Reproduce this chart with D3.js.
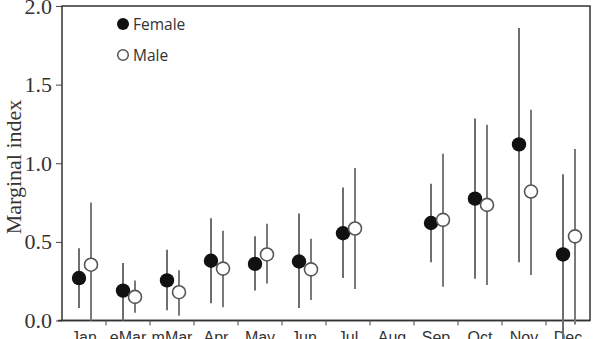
<!DOCTYPE html>
<html>
<head>
<meta charset="utf-8">
<script src="https://cdn.jsdelivr.net/npm/d3@7"></script>
<style>
  body { margin: 0; background: #fff; }
</style>
</head>
<body>
<div id="chart"></div>
<script>
var months = ["Jan","eMar","mMar","Apr","May","Jun","Jul","Aug","Sep","Oct","Nov","Dec"];
// female: mean, lower, upper  (null = no data)
var femaleMean = [0.27, 0.19, 0.255, 0.38, 0.36, 0.375, 0.555, null, 0.62, 0.775, 1.12, 0.42];
var femaleLow  = [0.08, 0.0, 0.065, 0.11, 0.19, 0.08, 0.27, null, 0.37, 0.265, 0.37, -0.12];
var femaleHigh = [0.46, 0.365, 0.45, 0.65, 0.535, 0.68, 0.845, null, 0.87, 1.285, 1.86, 0.93];
var maleMean = [0.355, 0.15, 0.18, 0.33, 0.42, 0.325, 0.585, null, 0.64, 0.735, 0.82, 0.535];
var maleLow  = [0.0, 0.05, 0.03, 0.085, 0.235, 0.13, 0.2, null, 0.215, 0.225, 0.29, -0.025];
var maleHigh = [0.75, 0.255, 0.32, 0.57, 0.615, 0.52, 0.97, null, 1.06, 1.245, 1.34, 1.09];
var yTicks = [0, 0.5, 1.0, 1.5, 2.0];

var width = 595, height = 339;
var margin = {left: 62, right: 5, top: 6, bottom: 18};

var svg = d3.select("#chart").append("svg")
  .attr("width", width)
  .attr("height", height);

var x = d3.scaleBand().domain(months)
  .range([margin.left, width - margin.right]);
var y = d3.scaleLinear().domain([0, 2])
  .range([height - margin.bottom - 0.5, margin.top]);

// frame
svg.append("rect")
  .attr("x", margin.left).attr("y", margin.top)
  .attr("width", width - margin.right - margin.left)
  .attr("height", y(0) - margin.top)
  .attr("fill", "none").attr("stroke", "#333").attr("stroke-width", 1.5);

// y axis
var yAxis = d3.axisLeft(y).tickValues(yTicks).tickFormat(d3.format(".1f")).tickSize(6);
var gy = svg.append("g").attr("transform", "translate(" + margin.left + ",0)").call(yAxis);
gy.select(".domain").remove();
gy.selectAll("line").attr("stroke", "#444");
gy.selectAll("text")
  .attr("font-family", "Liberation Serif, Times New Roman, serif")
  .attr("font-size", 22).attr("fill", "#333").attr("dx", "-1");

// x axis: ticks between categories
var gx = svg.append("g").attr("transform", "translate(0," + y(0) + ")");
gx.append("line").attr("x1", margin.left - 4).attr("x2", width - margin.right)
  .attr("stroke", "#333").attr("stroke-width", 1.5);
gx.selectAll(".tk").data(months.slice(1))
  .enter().append("line")
  .attr("x1", function(d){ return x(d); }).attr("x2", function(d){ return x(d); })
  .attr("y1", 0).attr("y2", 5).attr("stroke", "#444");
gx.selectAll(".lbl").data(months)
  .enter().append("text")
  .attr("x", function(d){ return x(d) + x.bandwidth()/2; })
  .attr("y", 22)
  .attr("text-anchor", "middle")
  .attr("font-family", "Liberation Sans, Arial, sans-serif")
  .attr("font-size", 16).attr("fill", "#333")
  .text(function(d){ return d; });

// y label
svg.append("text")
  .attr("transform", "translate(21," + 167 + ") rotate(-90)")
  .attr("text-anchor", "middle")
  .attr("font-family", "Liberation Serif, Times New Roman, serif")
  .attr("font-size", 22).attr("fill", "#333")
  .text("Marginal index");

var fOff = -5, mOff = 7;
function cx(i, off){ return x(months[i]) + x.bandwidth()/2 + off; }

var idx = d3.range(months.length).filter(function(i){ return femaleMean[i] !== null; });

// error bars
svg.selectAll(".fbar").data(idx).enter().append("line")
  .attr("x1", function(i){ return cx(i, fOff); }).attr("x2", function(i){ return cx(i, fOff); })
  .attr("y1", function(i){ return y(femaleLow[i]); })
  .attr("y2", function(i){ return y(femaleHigh[i]); })
  .attr("stroke", "#6e6e6e").attr("stroke-width", 2);
svg.selectAll(".mbar").data(idx).enter().append("line")
  .attr("x1", function(i){ return cx(i, mOff); }).attr("x2", function(i){ return cx(i, mOff); })
  .attr("y1", function(i){ return y(maleLow[i]); })
  .attr("y2", function(i){ return y(maleHigh[i]); })
  .attr("stroke", "#7a7a7a").attr("stroke-width", 2);

// points
svg.selectAll(".fpt").data(idx).enter().append("circle")
  .attr("cx", function(i){ return cx(i, fOff); })
  .attr("cy", function(i){ return y(femaleMean[i]); })
  .attr("r", 7.2).attr("fill", "#111");
svg.selectAll(".mpt").data(idx).enter().append("circle")
  .attr("cx", function(i){ return cx(i, mOff); })
  .attr("cy", function(i){ return y(maleMean[i]); })
  .attr("r", 6.5).attr("fill", "#fff").attr("stroke", "#555").attr("stroke-width", 1.6);

// legend
svg.append("circle").attr("cx", 123).attr("cy", 24).attr("r", 6).attr("fill", "#111");
svg.append("circle").attr("cx", 123).attr("cy", 55).attr("r", 5.3)
  .attr("fill", "#fff").attr("stroke", "#555").attr("stroke-width", 1.5);
svg.append("text").attr("x", 133).attr("y", 30)
  .attr("font-family", "Open Sans, sans-serif").attr("font-size", 15.5).attr("fill", "#333")
  .text("Female");
svg.append("text").attr("x", 133).attr("y", 61)
  .attr("font-family", "Open Sans, sans-serif").attr("font-size", 15.5).attr("fill", "#333")
  .text("Male");
</script>
</body>
</html>
